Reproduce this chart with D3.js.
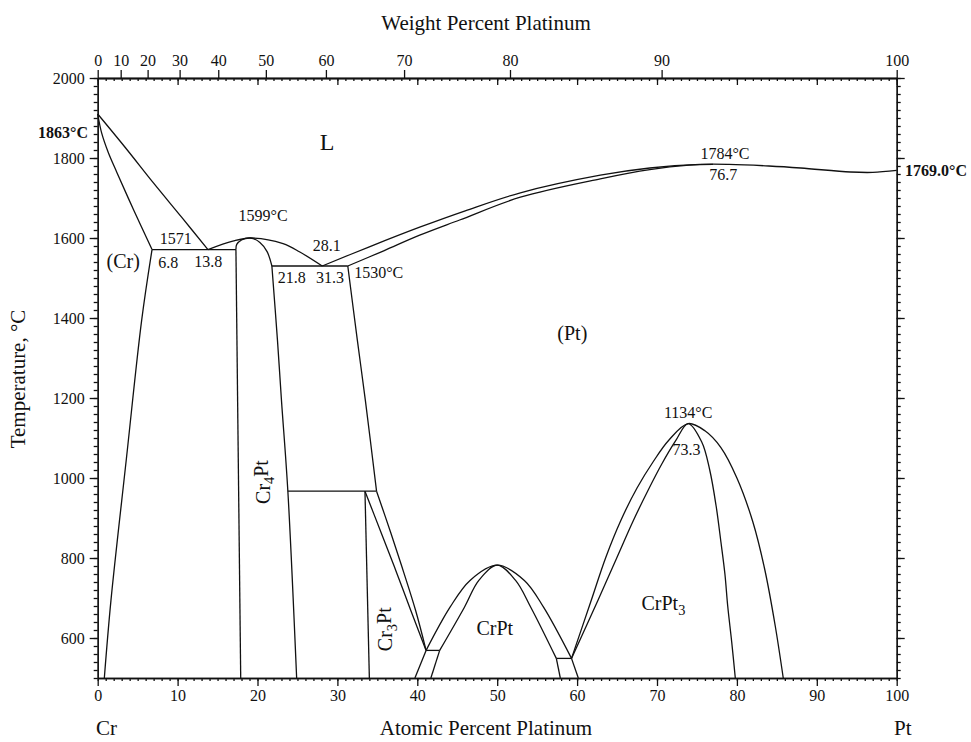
<!DOCTYPE html>
<html>
<head>
<meta charset="utf-8">
<title>Cr-Pt Phase Diagram</title>
<script src="https://cdn.jsdelivr.net/npm/d3@7"></script>
<style>
	body { margin: 0; background: #fff; }
	text { font-family: "Liberation Serif", "Times New Roman", serif; fill: #111; }
	.axis path, .axis line { stroke: #111; stroke-width: 1.3; }
	.axis text { font-size: 16px; }
	.boundary { fill: none; stroke: #111; stroke-width: 1.3; }
</style>
</head>
<body>
<div id="vis"></div>
<script type="text/javascript">
// tick values
var atomicTicks = [0, 10, 20, 30, 40, 50, 60, 70, 80, 90, 100];
var weightTicks = [0, 10, 20, 30, 40, 50, 60, 70, 80, 90, 100];
var tempTicks = [600, 800, 1000, 1200, 1400, 1600, 1800, 2000];

// phase boundaries, [at.% Pt, temperature °C]
var liquidusCr = [[0, 1910], [3.5, 1825], [7.0, 1737], [10.5, 1652], [13.8, 1571]];
var solidusCr = [[0, 1910], [0.5, 1862], [1.3, 1815], [2.4, 1764], [4.5, 1670], [6.8, 1571]];
var solvusCr = [[6.8, 1571], [5.5, 1394], [3.6, 1050], [1.66, 694], [0.83, 500]];
var eutecticCr = [[6.8, 1571], [17.3, 1571]];
var liquidusCr4Pt = [[13.8, 1571], [16.9, 1592], [19.1, 1600], [23.2, 1586], [25.3, 1565], [28.1, 1530]];
var cr4PtTop = [[17.3, 1571], [17.4, 1584], [18.0, 1595], [19.1, 1600], [20.3, 1589], [21.2, 1566], [21.8, 1530]];
var cr4PtLeft = [[17.3, 1571], [17.9, 500]];
var cr4PtRight = [[21.8, 1530], [22.5, 1344], [23.0, 1194], [23.8, 967], [24.9, 500]];
var eutecticPt = [[21.8, 1530], [31.3, 1530]];
var solvusPtHigh = [[31.3, 1530], [32.5, 1344], [33.5, 1194], [34.9, 967]];
var peritectoid = [[23.8, 967], [34.9, 967]];
var cr3PtLeft = [[33.45, 967], [34.0, 500]];
var cr3PtRight = [[33.45, 967], [35.5, 862], [37.4, 764], [39.2, 668], [41.1, 569]];
var solvusPtCr3Pt = [[34.9, 967], [36.7, 862], [38.3, 764], [39.8, 668], [41.1, 569]];
var eutectoidLeft = [[41.1, 569], [42.8, 569]];
var lowLeftA = [[41.1, 569], [39.7, 500]];
var lowLeftB = [[42.8, 569], [41.7, 500]];
var crPtOuter = [[41.1, 569], [44.1, 677], [46.6, 744], [50, 782], [53.4, 744], [55.8, 677], [59.3, 549]];
var crPtInner = [[42.8, 569], [45.9, 677], [47.7, 744], [50, 782], [52.3, 744], [54.2, 677], [57.4, 549]];
var eutectoidRight = [[57.4, 549], [59.3, 549]];
var lowRightA = [[57.4, 549], [57.9, 500]];
var lowRightB = [[59.3, 549], [60.15, 500]];
var crPt3Outer = [[59.3, 549], [61.7, 690], [63.6, 802], [65.5, 895], [67.5, 975], [69.5, 1040], [71.5, 1095],
	[73.9, 1136], [76.0, 1118], [78.0, 1076], [80.0, 1000], [82.0, 890], [83.5, 770], [84.8, 630], [85.8, 500]];
var crPt3Inner = [[59.3, 549], [62.6, 694], [65.0, 802], [67.0, 892], [68.9, 970], [70.6, 1035], [72.3, 1092],
	[73.9, 1136], [75.6, 1090], [76.6, 1020], [77.4, 930], [78.0, 840], [78.5, 760], [78.85, 680], [79.35, 590], [79.8, 500]];
var liquidusPt = [[28.1, 1530], [34, 1578], [40.3, 1627], [46, 1668], [52.9, 1713], [62.9, 1757], [69.1, 1775],
	[75.4, 1784], [79, 1784], [84, 1780], [88, 1775], [94.2, 1765], [97, 1764], [100, 1769]];
var solidusPt = [[31.3, 1530], [35.8, 1568], [40.3, 1607], [45.3, 1645], [52.9, 1702], [62.9, 1748], [69.1, 1771],
	[74, 1782], [77, 1784]];

var boundaries = [liquidusCr, solidusCr, solvusCr, eutecticCr, liquidusCr4Pt, cr4PtTop, cr4PtLeft, cr4PtRight,
	eutecticPt, solvusPtHigh, peritectoid, cr3PtLeft, cr3PtRight, solvusPtCr3Pt, eutectoidLeft, lowLeftA, lowLeftB,
	crPtOuter, crPtInner, eutectoidRight, lowRightA, lowRightB, crPt3Outer, crPt3Inner, liquidusPt, solidusPt];

// text labels: [text, subscript, rest, at.%, T, size, anchor, rotate]
var labels = [
	["L", "", "", 28.7, 1819, 24, "middle", 0],
	["(Cr)", "", "", 3.2, 1524, 20, "middle", 0],
	["(Pt)", "", "", 59.4, 1344, 20, "middle", 0],
	["1571", "", "", 9.77, 1584, 16, "middle", 0],
	["6.8", "", "", 8.84, 1524, 16, "middle", 0],
	["13.8", "", "", 13.84, 1527, 16, "middle", 0],
	["1599°C", "", "", 20.7, 1642, 16, "middle", 0],
	["28.1", "", "", 28.66, 1567, 16, "middle", 0],
	["21.8", "", "", 24.28, 1488, 16, "middle", 0],
	["31.3", "", "", 29.07, 1488, 16, "middle", 0],
	["1530°C", "", "", 32.1, 1501, 16, "start", 0],
	["1784°C", "", "", 78.5, 1798, 16, "middle", 0],
	["76.7", "", "", 78.3, 1744, 16, "middle", 0],
	["1134°C", "", "", 73.9, 1151, 16, "middle", 0],
	["73.3", "", "", 73.7, 1057, 16, "middle", 0],
	["Cr", "4", "Pt", 20.7, 990, 20, "middle", -90],
	["Cr", "3", "Pt", 36.0, 622, 20, "middle", -90],
	["CrPt", "", "", 49.7, 607, 20, "middle", 0],
	["CrPt", "3", "", 70.8, 669, 20, "middle", 0]
];

var width = 971, height = 742;
var svg = d3.select("#vis").append("svg").attr("width", width).attr("height", height);

var x = d3.scaleLinear().domain([0, 100]).range([97.7, 896.7]);
var y = d3.scaleLinear().domain([500, 2000]).range([678, 78]);

// weight % Pt -> atomic % Pt
function wtToAt(w) {
	var pt = w / 195.08, cr = (100 - w) / 51.996;
	return 100 * pt / (pt + cr);
}

// bottom axis
svg.append("g").attr("class", "axis").attr("transform", "translate(0," + y(500) + ")")
	.call(d3.axisBottom(x).tickValues(d3.range(0, 101, 1)).tickSize(3).tickSizeOuter(0).tickFormat(""));
svg.append("g").attr("class", "axis").attr("transform", "translate(0," + y(500) + ")")
	.call(d3.axisBottom(x).tickValues(atomicTicks).tickSize(8).tickSizeOuter(0).tickPadding(4));
// top axis: at.% ticks inside, wt.% ticks outside
svg.append("g").attr("class", "axis").attr("transform", "translate(0," + y(2000) + ")")
	.call(d3.axisBottom(x).tickValues(d3.range(0, 101, 1)).tickSize(3).tickSizeOuter(0).tickFormat(""));
svg.append("g").attr("class", "axis").attr("transform", "translate(0," + y(2000) + ")")
	.call(d3.axisBottom(x).tickValues(atomicTicks).tickSize(7).tickSizeOuter(0).tickFormat(""));
svg.append("g").attr("class", "axis").attr("transform", "translate(0," + y(2000) + ")")
	.call(d3.axisTop(x).tickValues(weightTicks.map(wtToAt)).tickSize(8).tickSizeOuter(0).tickPadding(4)
		.tickFormat(function(d, i) { return weightTicks[i]; }));
// left axis
svg.append("g").attr("class", "axis").attr("transform", "translate(" + x(0) + ",0)")
	.call(d3.axisLeft(y).tickValues(d3.range(500, 2001, 20)).tickSize(4).tickSizeOuter(0).tickFormat(""));
svg.append("g").attr("class", "axis").attr("transform", "translate(" + x(0) + ",0)")
	.call(d3.axisLeft(y).tickValues(tempTicks).tickSize(8).tickSizeOuter(0).tickPadding(5).tickFormat(d3.format("d")));
// right axis
svg.append("g").attr("class", "axis").attr("transform", "translate(" + x(100) + ",0)")
	.call(d3.axisRight(y).tickValues(d3.range(500, 2001, 20)).tickSize(4).tickSizeOuter(0).tickFormat(""));
svg.append("g").attr("class", "axis").attr("transform", "translate(" + x(100) + ",0)")
	.call(d3.axisRight(y).tickValues(tempTicks).tickSize(8).tickSizeOuter(0).tickFormat(""));
svg.selectAll(".axis text").attr("font-family", null);

// axis titles
svg.append("text").attr("x", 486).attr("y", 30).attr("text-anchor", "middle")
	.style("font-size", "21px").text("Weight Percent Platinum");
svg.append("text").attr("x", 486).attr("y", 735).attr("text-anchor", "middle")
	.style("font-size", "21px").text("Atomic Percent Platinum");
svg.append("text").attr("x", 96).attr("y", 735).style("font-size", "21px").text("Cr");
svg.append("text").attr("x", 894).attr("y", 735).style("font-size", "21px").text("Pt");
svg.append("text").attr("transform", "translate(25,379) rotate(-90)").attr("text-anchor", "middle")
	.style("font-size", "21px").text("Temperature, °C");

// melting points
svg.append("text").attr("x", 88).attr("y", y(1863)).attr("dy", "0.35em").attr("text-anchor", "end")
	.style("font-size", "16px").style("font-weight", "bold").text("1863°C");
svg.append("text").attr("x", 905).attr("y", y(1769)).attr("dy", "0.35em")
	.style("font-size", "16px").style("font-weight", "bold").text("1769.0°C");

// phase boundaries
var line = d3.line()
	.x(function(d) { return x(d[0]); })
	.y(function(d) { return y(d[1]); })
	.curve(d3.curveCatmullRom.alpha(0.5));
svg.append("g").selectAll("path").data(boundaries)
	.enter().append("path")
	.attr("class", "boundary")
	.attr("d", line);

// phase and point labels
labels.forEach(function(l) {
	var px = x(l[3]), py = y(l[4]);
	var t = svg.append("text")
		.attr("text-anchor", l[6])
		.style("font-size", l[5] + "px");
	if (l[7] != 0) {
		t.attr("transform", "translate(" + px + "," + py + ") rotate(" + l[7] + ")").attr("dy", "0.35em");
	} else {
		t.attr("x", px).attr("y", py);
	}
	t.append("tspan").text(l[0]);
	if (l[1] != "") {
		t.append("tspan").attr("dy", "0.3em").style("font-size", (l[5] * 0.72) + "px").text(l[1]);
		if (l[2] != "") t.append("tspan").attr("dy", "-0.3em").text(l[2]);
	}
});
</script>
</body>
</html>
